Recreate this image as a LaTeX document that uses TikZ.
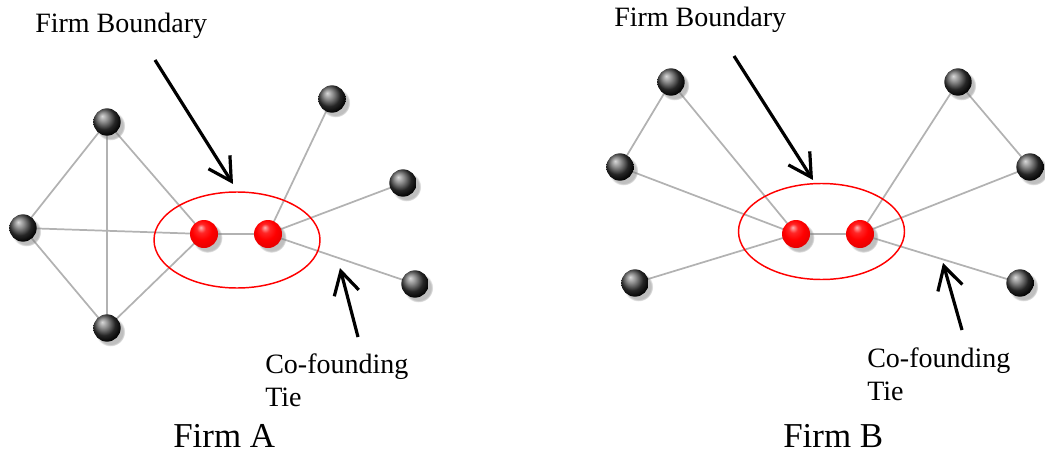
\documentclass[tikz,border=0pt]{standalone}
\usepackage{fontspec}
\setmainfont{Liberation Serif}
\usetikzlibrary{shapes.geometric,arrows.meta,shadows,backgrounds}
\pgfdeclareradialshading{redsphere}{\pgfpoint{-6bp}{12bp}}{%
  color(0bp)=(red!30!white); color(8bp)=(red!85!white); color(18bp)=(red);
  color(30bp)=(red!90!black); color(42bp)=(red!70!black); color(50bp)=(red!60!black)}
\pgfdeclareradialshading{darksphere}{\pgfpoint{-9bp}{11bp}}{%
  color(0bp)=(black!15!white); color(9bp)=(black!45!white); color(20bp)=(black!85);
  color(30bp)=(black); color(50bp)=(black)}
\begin{document}
\begin{tikzpicture}[x=0.75pt,y=-0.75pt,
 ball/.style={circle,minimum size=20.5pt,inner sep=0pt,
   circular drop shadow={shadow xshift=2.4pt,shadow yshift=-2.6pt,opacity=0.5,shadow scale=1.08}},
 dark/.style={ball,shading=darksphere},
 redball/.style={ball,shading=redsphere,minimum size=21pt},
 tie/.style={draw=gray!60,line width=1.3pt},
 boundary/.style={draw=red,line width=1.1pt,ellipse,inner sep=0pt,minimum width=124.5pt,minimum height=72pt},
 pointer/.style={line width=2.4pt,-{Straight Barb[length=17pt,width=19pt,line width=2.4pt]}},
 lbl/.style={font=\fontsize{21}{24.75}\selectfont,inner sep=0pt,align=left},
 big/.style={font=\fontsize{26.2}{30}\selectfont,inner sep=0pt}]
\useasboundingbox (0,0) rectangle (1045,460);

% ---------- Firm A ----------
\node[dark] (at) at (107,122) {};
\node[dark] (al) at (23,228) {};
\node[dark] (ab) at (107,328) {};
\node[redball] (ar1) at (204,234) {};
\node[redball] (ar2) at (268,234) {};
\node[dark] (atr) at (332,99) {};
\node[dark] (arm) at (403,183) {};
\node[dark] (abr) at (415,284) {};
\node[boundary] (ae) at (237,240) {};

\begin{pgfonlayer}{background}
\draw[tie] (al.center) -- (at.center);
\draw[tie] (al.center) -- (ab.center);
\draw[tie] (at.center) -- (ab.center);
\draw[tie] (al.center) -- (ar1.center);
\draw[tie] (at.center) -- (ar1.center);
\draw[tie] (ab.center) -- (ar1.center);
\draw[tie] (ar1.center) -- (ar2.center);
\draw[tie] (ar2.center) -- (atr.center);
\draw[tie] (ar2.center) -- (arm.center);
\draw[tie] (ar2.center) -- (abr.center);
\end{pgfonlayer}

\coordinate (a1s) at (155,60);
\coordinate (a1t) at (233,184);
\coordinate (a2s) at (358,337);
\coordinate (a2t) at (340,268);
\draw[pointer] (a1s) -- (a1t);
\draw[pointer] (a2s) -- (a2t);

\node[lbl,anchor=base west] (afb) at (35,33) {Firm Boundary};
\node[lbl,anchor=north west] (act) at (265,354) {Co-founding\\Tie};
\node[big,anchor=base west] (afa) at (173,447) {Firm A};

% ---------- Firm B ----------
\node[dark] (btl) at (671,82) {};
\node[dark] (blm) at (620,167) {};
\node[dark] (bbl) at (635,283) {};
\node[redball] (br1) at (796,234) {};
\node[redball] (br2) at (860,234) {};
\node[dark] (btr) at (958,82) {};
\node[dark] (brm) at (1030,167) {};
\node[dark] (bbr) at (1020,283) {};
\node[boundary] (be) at (821.5,231.5) {};

\begin{pgfonlayer}{background}
\draw[tie] (btl.center) -- (blm.center);
\draw[tie] (btl.center) -- (br1.center);
\draw[tie] (blm.center) -- (br1.center);
\draw[tie] (bbl.center) -- (br1.center);
\draw[tie] (br1.center) -- (br2.center);
\draw[tie] (br2.center) -- (btr.center);
\draw[tie] (br2.center) -- (brm.center);
\draw[tie] (btr.center) -- (brm.center);
\draw[tie] (br2.center) -- (bbr.center);
\end{pgfonlayer}

\coordinate (b1s) at (734,56);
\coordinate (b1t) at (813,180);
\coordinate (b2s) at (962,330);
\coordinate (b2t) at (943,263);
\draw[pointer] (b1s) -- (b1t);
\draw[pointer] (b2s) -- (b2t);

\node[lbl,anchor=base west] (bfb) at (614,27) {Firm Boundary};
\node[lbl,anchor=north west] (bct) at (867,348) {Co-founding\\Tie};
\node[big,anchor=base west] (bfa) at (783,447) {Firm B};
\end{tikzpicture}
\end{document}
